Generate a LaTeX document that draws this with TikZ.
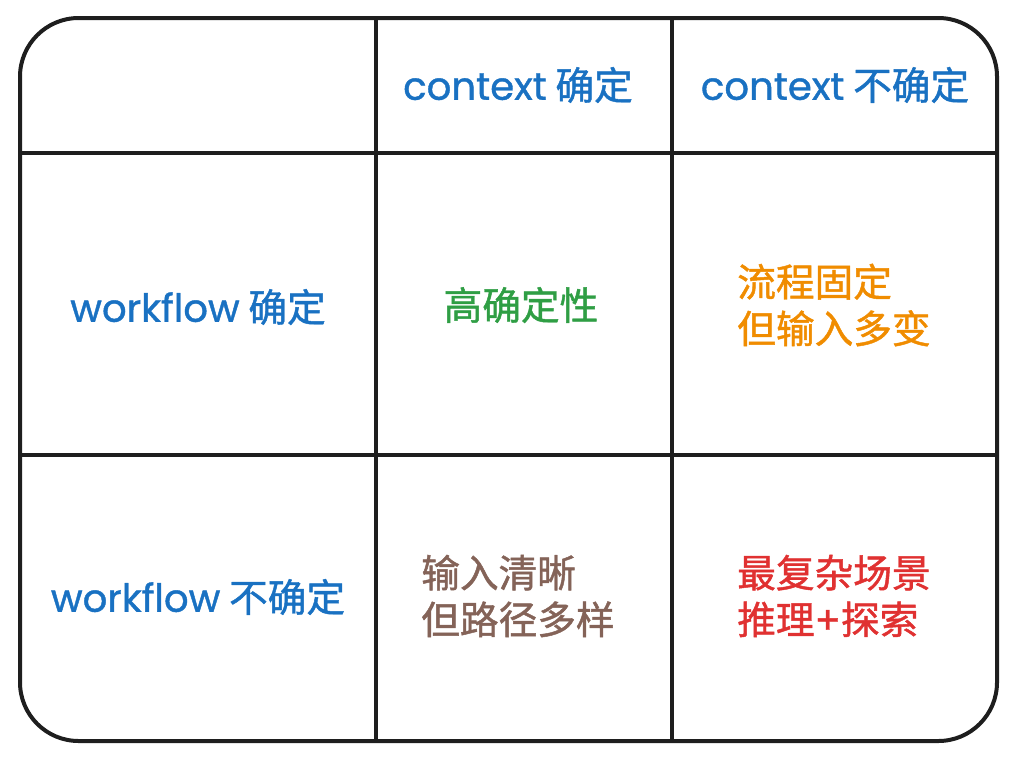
\documentclass[tikz,border=0pt]{standalone}
\usepackage{fontspec}
\setmainfont{Poppins}
\newfontfamily\cjk{Noto Sans CJK SC}[FakeBold=1.2]
\newfontfamily\lat{Poppins}[FakeBold=1.0]
\definecolor{exblue}{HTML}{1971C2}
\definecolor{exgreen}{HTML}{2F9E44}
\definecolor{exorange}{HTML}{F08C00}
\definecolor{exbrown}{HTML}{846358}
\definecolor{exred}{HTML}{E03131}
\definecolor{exline}{HTML}{1E1E1E}
\begin{document}
\begin{tikzpicture}[x=0.75pt,y=-0.75pt,
  gridline/.style={draw=exline,line width=3pt},
  lbl/.style={font=\fontsize{29}{35}\selectfont\cjk,inner sep=0pt},
  multi/.style={lbl,align=left,anchor=west}]
\useasboundingbox (0,0) rectangle (1016,764);
\draw[gridline,rounded corners=44pt] (20,18) rectangle (997,741);
\coordinate (v1t) at (376,18); \coordinate (v1b) at (376,741);
\coordinate (v2t) at (672,18); \coordinate (v2b) at (672,741);
\coordinate (h1l) at (20,153); \coordinate (h1r) at (997,153);
\coordinate (h2l) at (20,455); \coordinate (h2r) at (997,455);
\draw[gridline] (v1t) -- (v1b);
\draw[gridline] (v2t) -- (v2b);
\draw[gridline] (h1l) -- (h1r);
\draw[gridline] (h2l) -- (h2r);
\node[lbl,text=exblue] (c1) at (518,85) {{\lat context} 确定};
\node[lbl,text=exblue] (c2) at (835,85) {{\lat context} 不确定};
\node[lbl,text=exblue] (w1) at (198,307) {{\lat workflow} 确定};
\node[lbl,text=exblue] (w2) at (198,597) {{\lat workflow} 不确定};
\node[lbl,text=exgreen] (a) at (521,305) {高确定性};
\node[multi,text=exorange] (b) at (737,305) {流程固定\\但输入多变};
\node[multi,text=exbrown] (c) at (421,596) {输入清晰\\但路径多样};
\node[multi,text=exred] (d) at (737,596) {最复杂场景\\推理{\lat +}探索};
\end{tikzpicture}
\end{document}
